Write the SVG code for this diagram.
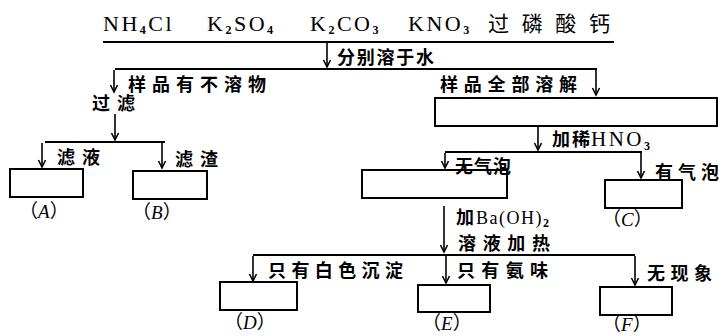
<svg xmlns="http://www.w3.org/2000/svg" width="723" height="336" viewBox="0 0 723 336">
<defs>
<marker id="ah" markerUnits="userSpaceOnUse" markerWidth="12" markerHeight="12" refX="0" refY="0" viewBox="-9 -6 10 12" orient="auto">
<path d="M-7,-3.5 L0,0 L-7,3.5" fill="none" stroke="#000" stroke-width="1.6"/>
</marker>
<style>
.ln{stroke:#000;stroke-width:2;fill:none}
.ar{stroke:#000;stroke-width:1.6;fill:none;marker-end:url(#ah)}
.bx{stroke:#000;stroke-width:2;fill:none}
.f{font-family:"Liberation Serif","Times New Roman",serif;font-size:22px;letter-spacing:2.5px;fill:#000}
.cn{font-family:"Noto Sans CJK SC","Noto Sans",sans-serif;font-size:18px;font-weight:bold;fill:#000}
.lb{font-family:"Liberation Serif","Noto Sans CJK SC",serif;font-size:19px;fill:#000}
.sub{font-size:12px;font-weight:bold}
</style>
</defs>
<g id="title">
<text class="f" x="103" y="31">NH<tspan class="sub" dy="3">4</tspan><tspan dy="-3">Cl</tspan></text>
<text class="f" x="207" y="31">K<tspan class="sub" dy="3">2</tspan><tspan dy="-3">SO</tspan><tspan class="sub" dy="3">4</tspan></text>
<text class="f" x="310" y="31">K<tspan class="sub" dy="3">2</tspan><tspan dy="-3">CO</tspan><tspan class="sub" dy="3">3</tspan></text>
<text class="f" x="408" y="31">KNO<tspan class="sub" dy="3">3</tspan></text>
<text class="cn" style="font-size:21px;font-weight:normal" x="488" y="31" textLength="122" lengthAdjust="spacing">过磷酸钙</text>
</g>
<g id="connectors">
<line class="ln" x1="103" y1="42" x2="614" y2="42"/>
<line class="ar" x1="327" y1="43" x2="327" y2="67"/>
<line class="ln" x1="115" y1="69" x2="597" y2="69"/>
<line class="ar" x1="114" y1="70" x2="114" y2="92"/>
<line class="ar" x1="596" y1="70" x2="596" y2="95"/>
<line class="ar" x1="115" y1="114" x2="115" y2="140"/>
<line class="ln" x1="45" y1="142" x2="165" y2="142"/>
<line class="ar" x1="42" y1="143" x2="42" y2="167"/>
<line class="ar" x1="162" y1="143" x2="162" y2="168"/>
<line class="ar" x1="538" y1="127" x2="538" y2="150"/>
<line class="ln" x1="445" y1="152" x2="642" y2="152"/>
<line class="ar" x1="445" y1="153" x2="445" y2="168"/>
<line class="ar" x1="641" y1="153" x2="641" y2="178"/>
<line class="ar" x1="444" y1="206" x2="444" y2="252"/>
<line class="ln" x1="253" y1="255" x2="635" y2="255"/>
<line class="ar" x1="253" y1="256" x2="253" y2="281"/>
<line class="ar" x1="446" y1="256" x2="446" y2="283"/>
<line class="ar" x1="635" y1="256" x2="635" y2="285"/>
</g>
<g id="labels">
<text class="cn" x="337" y="64" textLength="97" lengthAdjust="spacing">分别溶于水</text>
<text class="cn" x="128" y="91" textLength="138" lengthAdjust="spacing">样品有不溶物</text>
<text class="cn" x="92" y="110" textLength="43" lengthAdjust="spacing">过滤</text>
<text class="cn" x="440" y="91" textLength="137" lengthAdjust="spacing">样品全部溶解</text>
<text class="cn" x="57" y="164" textLength="43" lengthAdjust="spacing">滤液</text>
<text class="cn" x="175" y="166" textLength="43" lengthAdjust="spacing">滤渣</text>
<text class="cn" x="552" y="146" textLength="38" lengthAdjust="spacing">加稀</text>
<text class="f" style="font-size:21px;letter-spacing:2.5px" x="591" y="146">HNO<tspan class="sub" dy="4">3</tspan></text>
<text class="cn" x="455" y="173" textLength="56" lengthAdjust="spacing">无气泡</text>
<text class="cn" x="655" y="179" textLength="64" lengthAdjust="spacing">有气泡</text>
<text class="cn" x="456" y="224">加</text>
<text class="f" style="font-size:18px;letter-spacing:1.5px" x="476" y="224">Ba(OH)<tspan class="sub" dy="3">2</tspan></text>
<text class="cn" x="458" y="250" textLength="92" lengthAdjust="spacing">溶液加热</text>
<text class="cn" x="268" y="277" textLength="135" lengthAdjust="spacing">只有白色沉淀</text>
<text class="cn" x="457" y="277" textLength="91" lengthAdjust="spacing">只有氨味</text>
<text class="cn" x="647" y="280" textLength="65" lengthAdjust="spacing">无现象</text>
</g>
<g id="boxA"><rect class="bx" x="10" y="169" width="73" height="28"/><text class="lb" x="19" y="218">（<tspan font-style="italic">A</tspan>）</text></g>
<g id="boxB"><rect class="bx" x="133" y="171" width="74" height="28"/><text class="lb" x="132" y="219">（<tspan font-style="italic">B</tspan>）</text></g>
<g id="boxSol"><rect class="bx" x="435" y="98" width="282" height="28"/></g>
<g id="boxNoGas"><rect class="bx" x="362" y="170" width="145" height="28"/></g>
<g id="boxC"><rect class="bx" x="605" y="180" width="77" height="28"/><text class="lb" x="602" y="226">（<tspan font-style="italic">C</tspan>）</text></g>
<g id="boxD"><rect class="bx" x="220" y="282" width="77" height="28"/><text class="lb" x="224" y="329">（<tspan font-style="italic">D</tspan>）</text></g>
<g id="boxE"><rect class="bx" x="418" y="285" width="72" height="27"/><text class="lb" x="422" y="330">（<tspan font-style="italic">E</tspan>）</text></g>
<g id="boxF"><rect class="bx" x="600" y="287" width="72" height="28"/><text class="lb" x="602" y="331">（<tspan font-style="italic">F</tspan>）</text></g>
</svg>
